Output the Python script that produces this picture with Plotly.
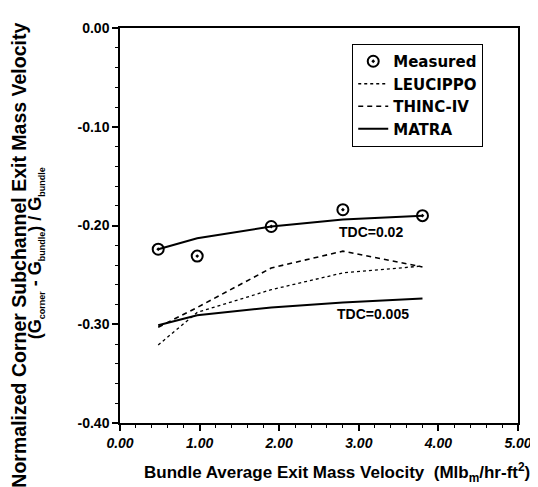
import plotly.graph_objects as go

x_meas = [0.48, 0.97, 1.90, 2.80, 3.80]
y_meas = [-0.224, -0.231, -0.201, -0.184, -0.190]

x_model = [0.48, 0.97, 1.90, 2.80, 3.80]
y_leucippo = [-0.321, -0.288, -0.265, -0.248, -0.241]
y_thinc = [-0.303, -0.283, -0.243, -0.226, -0.242]
y_matra_002 = [-0.224, -0.213, -0.201, -0.194, -0.190]
y_matra_0005 = [-0.301, -0.291, -0.283, -0.278, -0.274]

x_ticks = [0, 1, 2, 3, 4, 5]
x_ticktext = ["0.00", "1.00", "2.00", "3.00", "4.00", "5.00"]
y_ticks = [0.0, -0.1, -0.2, -0.3, -0.4]
y_ticktext = ["0.00", "-0.10", "-0.20", "-0.30", "-0.40"]

FONT = "Liberation Sans, Arial, sans-serif"
LFONT = "DejaVu Sans, Liberation Sans, sans-serif"

fig = go.Figure()
fig.add_trace(go.Scatter(x=x_meas, y=y_meas, mode="markers", name="Measured",
                         marker=dict(symbol="circle-open-dot", size=11, color="black",
                                     line=dict(width=2, color="black"))))
fig.add_trace(go.Scatter(x=x_model, y=y_leucippo, mode="lines", name="LEUCIPPO",
                         line=dict(color="black", width=1.3, dash="dot")))
fig.add_trace(go.Scatter(x=x_model, y=y_thinc, mode="lines", name="THINC-IV",
                         line=dict(color="black", width=1.6, dash="5px,4px")))
fig.add_trace(go.Scatter(x=x_model, y=y_matra_002, mode="lines", name="MATRA",
                         line=dict(color="black", width=2)))
fig.add_trace(go.Scatter(x=x_model, y=y_matra_0005, mode="lines", name="MATRA",
                         showlegend=False, line=dict(color="black", width=2)))

fig.add_annotation(x=2.72, y=-0.207, text="<b>TDC=0.02</b>", showarrow=False, xanchor="left",
                   yanchor="middle", font=dict(family=FONT, size=14, color="black"))
fig.add_annotation(x=2.70, y=-0.290, text="<b>TDC=0.005</b>", showarrow=False, xanchor="left",
                   yanchor="middle", font=dict(family=FONT, size=14, color="black"))

SUB = '<sub><span style="font-size:9px">%s</span></sub>'
fig.add_annotation(xref="paper", yref="paper", x=-0.256, y=0.424, textangle=-90,
                   text="<b>Normalized Corner Subchannel Exit Mass Velocity</b>", showarrow=False,
                   xanchor="center", yanchor="middle",
                   font=dict(family=FONT, size=19.5, color="black"))
fig.add_annotation(xref="paper", yref="paper", x=-0.211, y=0.43, textangle=-90,
                   text="<b>(G" + SUB % "corner" + " - G" + SUB % "bundle" + ") / G" + SUB % "bundle" + "</b>",
                   showarrow=False, xanchor="center", yanchor="middle",
                   font=dict(family=FONT, size=18, color="black"))
fig.add_annotation(xref="paper", yref="paper", x=0.545, y=-0.125,
                   text="<b>Bundle Average Exit Mass Velocity  (Mlb<sub>m</sub>/hr-ft<sup>2</sup>)</b>",
                   showarrow=False, xanchor="center", yanchor="middle",
                   font=dict(family=FONT, size=17, color="black"))

axis_common = dict(showline=True, linecolor="black", linewidth=1.5, mirror=True,
                   showgrid=False, zeroline=False, ticks="outside", tickcolor="black",
                   tickwidth=1.5, ticklen=6)

fig.update_xaxes(range=[0, 5], tickvals=x_ticks, ticktext=x_ticktext,
                 tickfont=dict(family=FONT, size=14, color="black", style="italic", weight="bold"),
                 minor=dict(dtick=0.2, ticks="outside", ticklen=3, tickcolor="black", tickwidth=1.2),
                 **axis_common)
fig.update_yaxes(range=[-0.4, 0], tickvals=y_ticks, ticktext=y_ticktext,
                 tickfont=dict(family=FONT, size=14, color="black", weight="bold"),
                 minor=dict(dtick=0.02, ticks="outside", ticklen=3, tickcolor="black", tickwidth=1.2),
                 **axis_common)

fig.update_layout(
    width=538, height=487,
    margin=dict(l=112, r=28, t=16, b=72),
    plot_bgcolor="white", paper_bgcolor="white",
    font=dict(family=FONT, color="black"),
    showlegend=True,
    legend=dict(x=0.583, y=0.96, xanchor="left", yanchor="top",
                bgcolor="white", bordercolor="black", borderwidth=1.2,
                font=dict(family=LFONT, size=15, color="black", weight="bold"),
                tracegroupgap=0, itemwidth=30),
)

fig.write_html("out.html")
